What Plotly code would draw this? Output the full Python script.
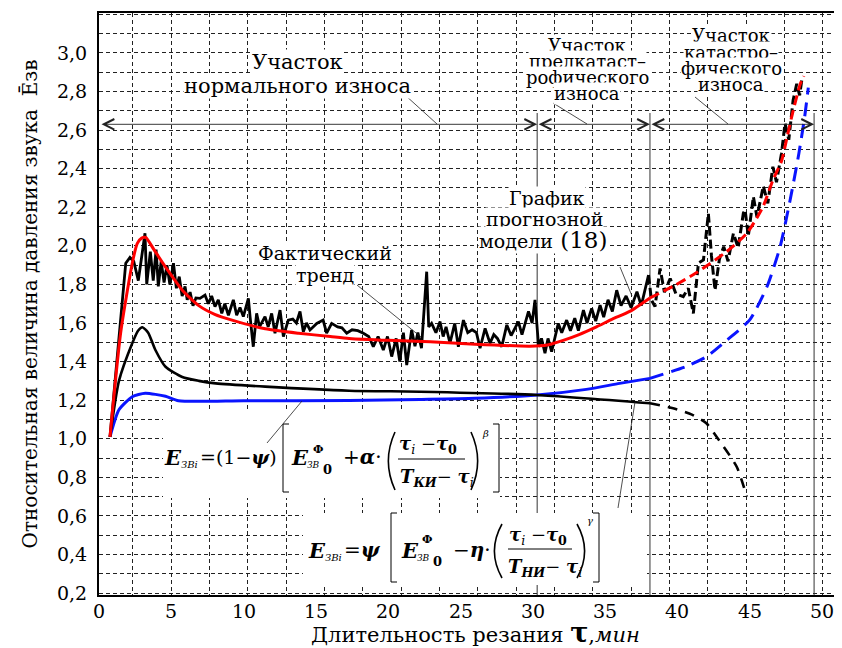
import plotly.graph_objects as go

# ---------------- data ----------------
trend_x = [0.76, 1.3, 1.85, 2.14, 2.4, 2.72, 2.95, 3.18, 3.3, 3.55, 3.75, 3.95, 4.1, 4.3, 4.5, 4.7, 4.9,
           5.15, 5.35, 5.55, 5.75, 5.95, 6.1, 6.3, 6.5, 6.7, 6.98, 7.33, 7.56, 7.79, 8.02, 8.25, 8.49,
           8.7, 8.95, 9.29, 9.52, 9.75, 9.98, 10.33, 10.45, 10.67, 10.9, 11.1, 11.48, 11.7, 11.94,
           12.17, 12.52, 12.75, 13.09, 13.4, 13.65, 13.9, 14.13, 14.35, 14.59, 15.06, 15.5, 15.74,
           16.09, 16.5, 16.8, 17.13, 17.5, 17.9, 18.28, 18.65, 18.97, 19.3, 19.66, 19.95, 20.24,
           20.55, 20.8, 21.05, 21.28, 21.62, 21.85, 22.05, 22.3, 22.5, 22.66, 22.8, 23.0, 23.3,
           23.58, 23.8, 24.0, 24.27, 24.6, 24.85, 25.2, 25.5, 25.8, 26.1, 26.35, 26.7, 27.04, 27.3,
           27.55, 27.85, 28.2, 28.5, 29.0, 29.25, 29.7, 29.95, 30.15, 30.4, 30.6, 30.84, 31.05,
           31.3, 31.55, 31.76, 32.0, 32.34, 32.6, 32.9, 33.15, 33.5, 33.75, 34.07, 34.35, 34.65,
           34.9, 35.2, 35.5, 35.8, 36.1, 36.45, 36.8, 37.2, 37.5, 38.0]
trend_y = [1.01, 1.45, 1.91, 1.94, 1.92, 1.82, 1.94, 2.065, 1.80, 1.97, 1.82, 1.98, 1.79, 1.92, 1.81,
           1.90, 1.80, 1.91, 1.78, 1.84, 1.74, 1.79, 1.72, 1.76, 1.69, 1.73, 1.728, 1.745, 1.70,
           1.74, 1.685, 1.72, 1.65, 1.70, 1.64, 1.72, 1.64, 1.68, 1.633, 1.728, 1.63, 1.477, 1.65,
           1.58, 1.633, 1.58, 1.65, 1.547, 1.667, 1.53, 1.615, 1.62, 1.60, 1.66, 1.555, 1.60, 1.564,
           1.598, 1.615, 1.547, 1.598, 1.58, 1.575, 1.547, 1.565, 1.56, 1.547, 1.53, 1.477, 1.53,
           1.46, 1.53, 1.426, 1.52, 1.40, 1.55, 1.382, 1.564, 1.48, 1.55, 1.47, 1.70, 1.866, 1.58,
           1.598, 1.55, 1.607, 1.53, 1.58, 1.495, 1.598, 1.477, 1.615, 1.55, 1.565, 1.55, 1.469,
           1.572, 1.495, 1.54, 1.52, 1.477, 1.59, 1.535, 1.607, 1.54, 1.66, 1.60, 1.72, 1.477, 1.52,
           1.443, 1.52, 1.451, 1.53, 1.598, 1.55, 1.615, 1.56, 1.625, 1.56, 1.667, 1.60, 1.676,
           1.61, 1.693, 1.63, 1.72, 1.66, 1.77, 1.69, 1.74, 1.68, 1.762, 1.69, 1.849]
trend_fx = [38.0, 38.2, 38.45, 38.8, 39.1, 39.5, 39.9, 40.4, 40.75, 41.1, 41.45, 41.8, 42.14, 42.35,
            42.6, 42.9, 43.2, 43.5, 43.87, 44.2, 44.56, 44.68, 44.9, 45.25, 45.5, 45.94, 46.25,
            46.6, 46.85, 47.2, 47.44, 47.7, 48.0, 48.25, 48.45, 48.6]
trend_fy = [1.849, 1.72, 1.685, 1.883, 1.76, 1.83, 1.75, 1.737, 1.78, 1.65, 1.91, 1.927, 2.168, 1.95,
            1.77, 1.93, 1.996, 1.92, 2.065, 1.99, 2.17, 2.186, 2.05, 2.255, 2.15, 2.31, 2.22, 2.41,
            2.33, 2.48, 2.635, 2.55, 2.755, 2.84, 2.78, 2.86]

model_x = [0.76, 1.5, 2.3, 2.65, 2.95, 3.23, 3.8, 4.6, 5.76, 6.9, 8.0, 9.2, 11.5, 13.8, 16.0, 17.3,
           20.0, 22.9, 26.0, 29.8, 31.0, 32.1, 33.2, 34.4, 35.5, 36.7, 38.1]
model_y = [1.01, 1.55, 1.91, 2.013, 2.04, 2.044, 1.98, 1.89, 1.77, 1.69, 1.645, 1.615, 1.57, 1.547,
           1.53, 1.52, 1.51, 1.503, 1.49, 1.48, 1.486, 1.51, 1.54, 1.58, 1.62, 1.66, 1.73]
model_fx = [38.1, 39.7, 41.3, 43.4, 44.8, 45.9, 46.6, 47.2, 47.6, 48.0, 48.5, 48.75]
model_fy = [1.73, 1.79, 1.86, 1.97, 2.065, 2.20, 2.34, 2.44, 2.57, 2.70, 2.84, 2.88]

comp1_x = [0.76, 1.38, 2.3, 2.7, 3.0, 3.4, 3.9, 4.6, 5.76, 6.9, 8.07, 11.5, 17.3, 22.2, 30.3, 38.1]
comp1_y = [1.01, 1.30, 1.495, 1.56, 1.578, 1.55, 1.46, 1.373, 1.32, 1.30, 1.287, 1.27, 1.249,
           1.244, 1.227, 1.184]
comp1_fx = [38.1, 39.7, 41.0, 42.0, 42.9, 44.1, 44.8]
comp1_fy = [1.184, 1.158, 1.125, 1.08, 0.99, 0.855, 0.70]

comp2_x = [0.76, 1.38, 2.3, 3.2, 4.6, 5.5, 10.0, 17.3, 22.2, 26.0, 30.3, 33.7, 36.0, 38.1]
comp2_y = [1.01, 1.15, 1.218, 1.236, 1.22, 1.197, 1.197, 1.198, 1.204, 1.21, 1.227, 1.256, 1.287,
           1.313]
comp2_fx = [38.1, 40.6, 42.0, 43.4, 45.0, 46.2, 47.1, 47.8, 48.4, 48.8, 49.05]
comp2_fy = [1.313, 1.374, 1.425, 1.51, 1.616, 1.79, 1.995, 2.24, 2.48, 2.67, 2.82]

zone_bounds = [0.07, 30.3, 38.1, 49.45]
zone_level = 2.63

x_ticks = [0, 5, 10, 15, 20, 25, 30, 35, 40, 45, 50]
y_ticks = [0.2, 0.4, 0.6, 0.8, 1.0, 1.2, 1.4, 1.6, 1.8, 2.0, 2.2, 2.4, 2.6, 2.8, 3.0]

# ---------------- figure ----------------
SERIF = "DejaVu Serif"
X0, X1 = 0.0, 51.38
Y0, Y1 = 0.19, 3.207
OFF = 8  # page body margin of the html page
# plot area on screen: x 99..842, y 13..595
SL, ST, SB, SR = 99, 13, 595, 842
W, H = SR - OFF, 648 - OFF
L, T = SL - OFF, ST - OFF
B = H - (SB - OFF)
R = 0
pw, ph = SR - SL, SB - ST


def X(px):
    return X0 + (px - SL) / pw * (X1 - X0)


def Y(py):
    return Y0 + (SB - py) / ph * (Y1 - Y0)


def PY(py):
    return -(py - SB) / ph


fig = go.Figure()


def line(xs, ys, color, width, dash="solid", shape="spline"):
    fig.add_trace(go.Scatter(x=xs, y=ys, mode="lines", showlegend=False, hoverinfo="skip",
                             line=dict(color=color, width=width, dash=dash, shape=shape,
                                       smoothing=0.6)))


line(comp2_x, comp2_y, "#0a14ff", 3)
line(comp2_fx, comp2_fy, "#0a14ff", 3, dash="14px,8px")
line(comp1_x, comp1_y, "black", 2.6)
line(comp1_fx, comp1_fy, "black", 2.6, dash="10px,8px")
line(trend_x, trend_y, "black", 2.8, shape="linear")
line(trend_fx, trend_fy, "black", 3, dash="9px,4px", shape="linear")
line(model_x, model_y, "#ff0000", 3)
line(model_fx, model_fy, "#ff0000", 3, dash="10px,5px")

shapes = []
vcol = "#333333"
shapes.append(dict(type="line", xref="x", yref="y", x0=zone_bounds[1], x1=zone_bounds[1],
                   y0=Y(113), y1=Y(190), line=dict(color=vcol, width=1), layer="between"))
shapes.append(dict(type="line", xref="x", yref="y", x0=zone_bounds[1], x1=zone_bounds[1],
                   y0=Y(250), y1=Y0, line=dict(color=vcol, width=1), layer="between"))
for xb in zone_bounds[2:]:
    shapes.append(dict(type="line", xref="x", yref="y", x0=xb, x1=xb, y0=Y(113), y1=Y0,
                       line=dict(color=vcol, width=1), layer="between"))
shapes.append(dict(type="rect", xref="x", yref="y", x0=X(163), x1=X(500), y0=Y(410), y1=Y(498),
                   fillcolor="white", line=dict(width=0), layer="between"))
shapes.append(dict(type="rect", xref="x", yref="y", x0=X(303), x1=X(647), y0=Y(513), y1=Y(585),
                   fillcolor="white", line=dict(width=0), layer="between"))

fcol = "black"


def sq_left(px, top, bot, w=6):
    shapes.append(dict(type="path", xref="x", yref="y",
                       path=f"M{X(px + w)},{Y(top)} L{X(px)},{Y(top)} L{X(px)},{Y(bot)} L{X(px + w)},{Y(bot)}",
                       line=dict(color=fcol, width=1)))


def sq_right(px, top, bot, w=6):
    shapes.append(dict(type="path", xref="x", yref="y",
                       path=f"M{X(px - w)},{Y(top)} L{X(px)},{Y(top)} L{X(px)},{Y(bot)} L{X(px - w)},{Y(bot)}",
                       line=dict(color=fcol, width=1)))


def paren(px_out, px_in, top, bot):
    mid = (top + bot) / 2
    ctrl = px_out - (px_in - px_out) * 0.9
    shapes.append(dict(type="path", xref="x", yref="y",
                       path=f"M{X(px_in)},{Y(top)} Q{X(ctrl)},{Y(mid)} {X(px_in)},{Y(bot)}",
                       line=dict(color=fcol, width=1.6)))


def hbar(a, b, py):
    shapes.append(dict(type="line", xref="x", yref="y", x0=X(a), x1=X(b), y0=Y(py), y1=Y(py),
                       line=dict(color=fcol, width=1)))


def ptr(p0, p1):
    shapes.append(dict(type="line", xref="x", yref="y", x0=X(p0[0]), y0=Y(p0[1]),
                       x1=X(p1[0]), y1=Y(p1[1]), line=dict(color="#222", width=0.8)))


sq_left(283, 424, 492)
paren(388, 395, 432, 490)
hbar(398, 465, 459)
paren(478, 471, 432, 490)
sq_right(499, 424, 492)
sq_left(391, 513, 582)
paren(494, 502, 524, 578)
hbar(508, 572, 549)
paren(585, 577, 524, 578)
sq_right(599, 513, 582)

ptr((405, 95), (437, 124))
ptr((553, 103), (587, 124))
ptr((695, 97), (728, 124))
ptr((357, 285), (421, 337))
ptr((620, 267), (632, 296))
ptr((267, 443), (302, 401))
ptr((618, 508), (635, 402))

anns = []


def txt(px, py, text, size, xanchor="center", bg=None):
    d = dict(x=X(px), y=Y(py), xref="x", yref="y", text=text, showarrow=False,
             font=dict(family=SERIF, size=size, color="black"), xanchor=xanchor, yanchor="middle")
    if bg:
        d["bgcolor"] = bg
        d["borderpad"] = 0
    anns.append(d)


txt(297, 62, "Участок", 21, bg="white")
txt(297, 86, "нормального износа", 21, bg="white")
txt(587, 45, "Участок", 18, bg="white")
txt(587, 61, "предкатаст–", 18, bg="white")
txt(587, 77, "рофического", 18, bg="white")
txt(587, 93, "износа", 18, bg="white")
txt(731, 35, "Участок", 18, bg="white")
txt(731, 52, "катастро–", 18, bg="white")
txt(731, 68, "фического", 18, bg="white")
txt(731, 84, "износа", 18, bg="white")
txt(325, 253, "Фактический", 19, bg="white")
txt(325, 275, "тренд", 19, bg="white")
txt(547, 198, "График", 19, bg="white")
txt(544, 219, "прогнозной", 19, bg="white")
txt(543, 240, "модели<span style='font-size:23px'> (18)</span>", 19, bg="white")

for a, b in zip(zone_bounds[:-1], zone_bounds[1:]):
    anns.append(dict(x=b, y=zone_level, ax=a, ay=zone_level, xref="x", yref="y", axref="x",
                     ayref="y", text="", showarrow=True, arrowhead=5, startarrowhead=5,
                     arrowside="end+start", arrowsize=2.3, startarrowsize=2.3, arrowwidth=0.9,
                     arrowcolor="#222"))

BI = lambda s: f"<b><i>{s}</i></b>"
# formula 1
txt(162, 457, BI("E"), 21, xanchor="left")
txt(179, 464, "<i>ЗВi</i>", 10, xanchor="left")
txt(198, 457, "=(1−" + BI("ψ") + ")", 19, xanchor="left")
txt(289, 457, BI("E"), 21, xanchor="left")
txt(311, 449, "<b>Ф</b>", 11, xanchor="left")
txt(305, 465, "<i>ЗВ</i>", 9, xanchor="left")
txt(321, 469, "<b>0</b>", 13, xanchor="left")
txt(341, 457, "+" + BI("α") + "·", 20, xanchor="left")
txt(428, 445, BI("τ") + "<sub><i>i</i></sub> −" + BI("τ") + "<sub><b>0</b></sub>", 18)
txt(437, 478, BI("T") + "<sub>" + BI("КИ") + "</sub>− " + BI("τ") + "<sub><i>i</i></sub>", 18)
txt(485, 433, "<i>β</i>", 10)
# formula 2
txt(306, 550, BI("E"), 21, xanchor="left")
txt(323, 557, "<i>ЗВi</i>", 10, xanchor="left")
txt(342, 550, "=" + BI("ψ"), 20, xanchor="left")
txt(399, 550, BI("E"), 21, xanchor="left")
txt(420, 539, "<b>Ф</b>", 11, xanchor="left")
txt(415, 558, "<i>ЗВ</i>", 9, xanchor="left")
txt(431, 561, "<b>0</b>", 13, xanchor="left")
txt(451, 550, "−" + BI("η") + "·", 20, xanchor="left")
txt(538, 536, BI("τ") + "<sub><i>i</i></sub> −" + BI("τ") + "<sub><b>0</b></sub>", 18)
txt(545, 568, BI("T") + "<sub>" + BI("НИ") + "</sub>− " + BI("τ") + "<sub><i>i</i></sub>", 18)
txt(590, 520, "<i>γ</i>", 10)

# x tick labels (close to the axis as in the reference)
for v in x_ticks:
    anns.append(dict(x=v, y=PY(611), xref="x", yref="paper", text=str(v), showarrow=False,
                     xanchor="center", yanchor="middle",
                     font=dict(family=SERIF, size=19, color="black")))

# x-axis title
anns.append(dict(x=(475 - SL) / pw, y=PY(632), xref="paper", yref="paper",
                 text="Длительность резания <b><span style='font-size:27px'>τ</span></b>,<i>мин</i>",
                 showarrow=False, xanchor="center", yanchor="middle",
                 font=dict(family=SERIF, size=21, color="black")))

gridc = "#222222"
fig.update_layout(
    width=W, height=H, autosize=False,
    margin=dict(l=L, r=R, t=T, b=B, pad=0),
    paper_bgcolor="white", plot_bgcolor="white",
    separators=", ",
    font=dict(family=SERIF, color="black"),
    shapes=shapes, annotations=anns,
    xaxis=dict(range=[X0, X1], tickvals=x_ticks, showticklabels=False,
               showgrid=False, zeroline=False, showline=True, linecolor="black", linewidth=2,
               mirror=True, ticks="",
               minor=dict(tick0=2.35, dtick=2.65, showgrid=True, griddash="4px,3px",
                          gridcolor=gridc, gridwidth=1, ticks=""),
               automargin=False),
    yaxis=dict(range=[Y0, Y1], tickvals=y_ticks, tickformat=".1f",
               showgrid=True, griddash="4px,3px", gridcolor=gridc, gridwidth=1,
               zeroline=False, showline=True, linecolor="black", linewidth=2, mirror=True,
               ticks="", ticklen=0, ticklabelstandoff=6, tickfont=dict(family=SERIF, size=19),
               minor=dict(dtick=0.1, tick0=0.2, showgrid=True, griddash="4px,3px",
                          gridcolor=gridc, gridwidth=1, ticks="", ticklen=0),
               title=dict(text="Относительная величина давления звука  Ēзв",
                          font=dict(family=SERIF, size=20), standoff=14),
               automargin=False),
)

fig.write_html("out.html")
